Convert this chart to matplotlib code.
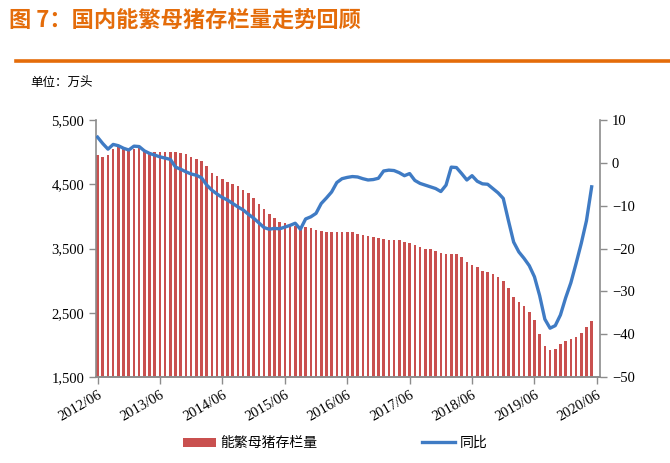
import numpy as np
import matplotlib.pyplot as plt
from matplotlib.patches import Patch
from matplotlib.lines import Line2D
from matplotlib.ticker import FuncFormatter

plt.rcParams['font.family'] = ['Noto Sans CJK SC', 'DejaVu Sans']

# monthly breeding sow inventory (10k head), 2012/06 .. 2020/05
sows = [4955, 4929, 4955, 5049, 5075, 5060, 5033, 5055, 5060, 5033, 5007, 5002,
        5002, 4997, 5002, 4997, 4982, 4966, 4929, 4893, 4862, 4789, 4680, 4629,
        4582, 4530, 4500, 4473, 4410, 4360, 4282, 4188, 4110, 4037, 3970, 3918,
        3892, 3866, 3855, 3840, 3840, 3815, 3790, 3773, 3752, 3752, 3762, 3752,
        3752, 3752, 3726, 3711, 3700, 3684, 3664, 3648, 3633, 3633, 3628, 3602,
        3581, 3555, 3524, 3493, 3488, 3466, 3426, 3415, 3415, 3415, 3363, 3286,
        3244, 3208, 3146, 3135, 3104, 3062, 2995, 2881, 2750, 2673, 2611, 2517,
        2388, 2170, 1983, 1921, 1932, 2015, 2061, 2087, 2119, 2181, 2284, 2377]

# year-on-year change, %
yoy = [6.0, 4.5, 3.2, 4.3, 4.0, 3.4, 3.0, 3.9, 3.8, 2.8, 2.2, 1.8,
       1.4, 1.1, 0.8, -1.0, -1.5, -2.1, -2.6, -2.9, -3.5, -5.2, -6.4, -7.3,
       -8.1, -8.7, -9.5, -10.3, -11.0, -12.0, -12.9, -14.0, -15.1, -15.5, -15.3, -15.4,
       -15.0, -14.6, -14.1, -15.5, -13.1, -12.6, -11.8, -9.5, -8.2, -6.8, -4.6, -3.7,
       -3.4, -3.2, -3.3, -3.7, -4.0, -3.9, -3.6, -1.9, -1.7, -1.8, -2.3, -3.0,
       -2.5, -4.1, -4.8, -5.2, -5.6, -6.0, -6.7, -5.2, -1.0, -1.1, -2.5, -4.0,
       -3.0, -4.3, -4.9, -5.0, -6.0, -7.0, -8.3, -13.5, -18.5, -20.8, -22.3, -24.0,
       -26.6, -31.0, -36.5, -38.6, -38.0, -35.5, -31.5, -28.0, -23.5, -18.8, -13.5, -5.6]

tick_labels = ['2012/06', '2013/06', '2014/06', '2015/06', '2016/06',
               '2017/06', '2018/06', '2019/06', '2020/06']

orange = '#E46C0A'
red = '#C9504F'
blue = '#3F7BC4'
grey = '#8C8C8C'
serif = ['Liberation Serif', 'DejaVu Serif']

x = np.arange(len(sows))

fig = plt.figure(figsize=(6.7, 4.63), dpi=100)
fig.text(0.014, 0.955, '图 7：国内能繁母猪存栏量走势回顾', color=orange,
         fontsize=16, fontweight='bold', va='center', ha='left')
fig.add_artist(Line2D([0.024, 1.0], [0.868, 0.868], color=orange, lw=2.6))
fig.text(0.045, 0.822, '单位：万头', fontsize=9, va='center', ha='left')

ax = fig.add_axes([0.1433, 0.1857, 0.7522, 0.5551])
ax.bar(x, sows, width=0.5, color=red, zorder=2)
ax.set_ylim(1500, 5500)
ax.set_yticks([1500, 2500, 3500, 4500, 5500])
ax.yaxis.set_major_formatter(FuncFormatter(lambda v, p: f'{int(v):,}'))
ax.set_xlim(-0.3, 96.6)
ax.set_xticks(np.arange(0, 97, 12))
ax.set_xticklabels(tick_labels, rotation=30, ha='right', rotation_mode='anchor')

ax2 = ax.twinx()
ax2.plot(x, yoy, color=blue, lw=2.4, solid_joinstyle='round', zorder=3)
ax2.set_ylim(-50, 10)
ax2.set_yticks(np.arange(-50, 11, 10))

for a in (ax, ax2):
    a.spines['top'].set_visible(False)
    for s in ('left', 'right', 'bottom'):
        a.spines[s].set_color(grey)
        a.spines[s].set_linewidth(1.2)
    a.tick_params(axis='both', colors=grey, length=5, width=1.0,
                  labelcolor='black', labelsize=10.5)
    for lab in a.get_xticklabels() + a.get_yticklabels():
        lab.set_family(serif)
ax2.spines['left'].set_visible(False)
ax.spines['right'].set_visible(False)

handles = [Patch(facecolor=red, edgecolor='none'),
           Line2D([], [], color=blue, lw=2.4)]
fig.legend(handles, ['能繁母猪存栏量', '同比'], loc='center',
           bbox_to_anchor=(0.5, 0.043), ncol=2, frameon=False,
           fontsize=10, handlelength=2.4, handleheight=0.6,
           columnspacing=7.5, handletextpad=0.3)

fig.savefig('out.png', dpi=100)
